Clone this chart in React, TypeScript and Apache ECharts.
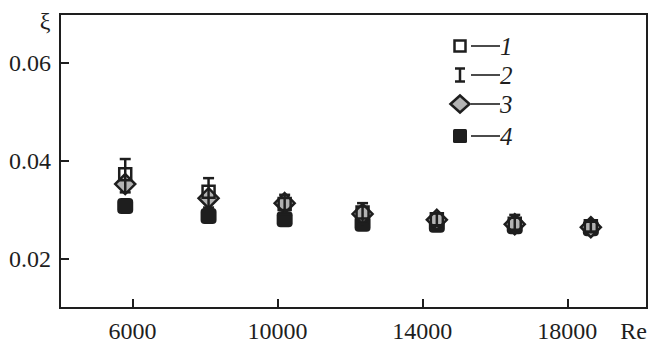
import React, { useEffect, useRef } from "react";
import * as echarts from "echarts";

// Reynolds numbers (x)
const re = [5800, 8100, 10200, 12350, 14400, 16550, 18650];
// Series 1: open squares
const xi1 = [0.0373, 0.0337, 0.0312, 0.0295, 0.0281, 0.0272, 0.0267];
// Series 2: error bars (centre and half-width)
const xi2 = [0.0370, 0.0335, 0.0311, 0.0293, 0.0280, 0.0272, 0.0266];
const err2 = [0.0034, 0.0030, 0.0020, 0.0021, 0.0013, 0.0018, 0.0010];
// Series 3: grey diamonds
const xi3 = [0.0353, 0.0324, 0.0314, 0.0292, 0.0280, 0.0271, 0.0265];
// Series 4: filled squares
const xi4 = [0.0308, 0.0288, 0.0281, 0.0272, 0.0270, 0.0267, 0.0263];

const xTicks = [6000, 10000, 14000, 18000];
const yTicks = [0.02, 0.04, 0.06];
const legendLabels = ["1", "2", "3", "4"];

const FONT = "Liberation Serif";
const INK = "#1e1e1e";

export default function App() {
  const ref = useRef<HTMLDivElement>(null);

  useEffect(() => {
    if (!ref.current) return;
    const chart = echarts.init(ref.current, null, { renderer: "svg" });

    const pair = (ys: number[]) => re.map((x, i) => [x, ys[i]]);
    const errData = re.map((x, i) => [x, xi2[i] - err2[i], xi2[i] + err2[i]]);

    const lx = 460;
    const rows = [46, 75, 104, 136];
    const legend: any[] = [];
    rows.forEach((y, i) => {
      legend.push({
        type: "line",
        shape: { x1: 471, y1: y, x2: 500, y2: y },
        style: { stroke: INK, lineWidth: 1.6 },
      });
      legend.push({
        type: "text",
        x: 500,
        y: y,
        style: {
          text: legendLabels[i],
          fontFamily: FONT,
          fontStyle: "italic",
          fontSize: 25,
          fill: INK,
          verticalAlign: "middle",
        },
      });
    });
    legend.push({
      type: "rect",
      shape: { x: lx - 5.5, y: rows[0] - 5.5, width: 11, height: 11 },
      style: { fill: "#fff", stroke: INK, lineWidth: 2.5 },
    });
    legend.push({
      type: "line",
      shape: { x1: lx - 5, y1: rows[1] - 6.5, x2: lx + 5, y2: rows[1] - 6.5 },
      style: { stroke: INK, lineWidth: 2.5 },
    });
    legend.push({
      type: "line",
      shape: { x1: lx - 5, y1: rows[1] + 6.5, x2: lx + 5, y2: rows[1] + 6.5 },
      style: { stroke: INK, lineWidth: 2.5 },
    });
    legend.push({
      type: "line",
      shape: { x1: lx, y1: rows[1] - 6.5, x2: lx, y2: rows[1] + 6.5 },
      style: { stroke: INK, lineWidth: 2.5 },
    });
    legend.push({
      type: "polygon",
      shape: {
        points: [
          [lx - 9.5, rows[2]],
          [lx, rows[2] - 8.5],
          [lx + 9.5, rows[2]],
          [lx, rows[2] + 8.5],
        ],
      },
      style: { fill: "#b3b3b3", stroke: INK, lineWidth: 2.5 },
    });
    legend.push({
      type: "rect",
      shape: { x: lx - 7, y: rows[3] - 7, width: 14, height: 14, r: 1.5 },
      style: { fill: INK },
    });

    chart.setOption({
      animation: false,
      textStyle: { fontFamily: FONT },
      grid: {
        left: 60,
        right: 1,
        top: 14,
        bottom: 39,
        show: true,
        borderColor: INK,
        borderWidth: 2,
        backgroundColor: "transparent",
      },
      xAxis: {
        type: "value",
        min: 4000,
        max: 20200,
        axisLine: { show: false },
        splitLine: { show: false },
        axisTick: {
          show: true,
          inside: true,
          length: 9,
          customValues: xTicks,
          lineStyle: { color: INK, width: 2 },
        },
        axisLabel: {
          customValues: xTicks,
          margin: 11,
          fontFamily: FONT,
          fontSize: 24,
          color: INK,
          formatter: (v: number) => String(v),
        },
      },
      yAxis: {
        type: "value",
        min: 0.01,
        max: 0.07,
        axisLine: { show: false },
        splitLine: { show: false },
        axisTick: {
          show: true,
          inside: true,
          length: 9,
          customValues: yTicks,
          lineStyle: { color: INK, width: 2 },
        },
        axisLabel: {
          customValues: yTicks,
          margin: 9,
          fontFamily: FONT,
          fontSize: 24,
          color: INK,
          formatter: (v: number) => v.toFixed(2),
        },
      },
      graphic: [
        {
          type: "text",
          x: 45,
          y: 21,
          style: {
            text: "ξ",
            fontFamily: FONT,
            fontSize: 24,
            fill: INK,
            align: "center",
            verticalAlign: "middle",
          },
        },
        {
          type: "text",
          x: 647,
          y: 331,
          style: {
            text: "Re",
            fontFamily: FONT,
            fontSize: 24,
            fill: INK,
            align: "right",
            verticalAlign: "middle",
          },
        },
        ...legend,
      ],
      series: [
        {
          name: "4",
          type: "scatter",
          z: 2,
          symbol: "roundRect",
          symbolSize: 16,
          itemStyle: { color: INK, opacity: 1 },
          data: pair(xi4),
        },
        {
          name: "3",
          type: "scatter",
          z: 3,
          symbol: "diamond",
          symbolSize: [20, 20],
          itemStyle: { color: "#b3b3b3", borderColor: INK, borderWidth: 2.5, opacity: 1 },
          data: pair(xi3),
        },
        {
          name: "1",
          type: "scatter",
          z: 4,
          symbol: "rect",
          symbolSize: 12,
          itemStyle: { color: "rgba(255,255,255,0)", borderColor: INK, borderWidth: 2.5, opacity: 1 },
          data: pair(xi1),
        },
        {
          name: "2",
          type: "custom",
          z: 5,
          encode: { x: 0, y: [1, 2] },
          renderItem: (params: any, api: any) => {
            const x = api.value(0);
            const lo = api.coord([x, api.value(1)]);
            const hi = api.coord([x, api.value(2)]);
            const w = 5.5;
            const st = { stroke: INK, lineWidth: 2.5 };
            return {
              type: "group",
              children: [
                { type: "line", shape: { x1: lo[0], y1: lo[1], x2: hi[0], y2: hi[1] }, style: st },
                { type: "line", shape: { x1: hi[0] - w, y1: hi[1], x2: hi[0] + w, y2: hi[1] }, style: st },
                { type: "line", shape: { x1: lo[0] - w, y1: lo[1], x2: lo[0] + w, y2: lo[1] }, style: st },
              ],
            };
          },
          data: errData,
        },
      ],
    });

    return () => chart.dispose();
  }, []);

  return (
    <div
      ref={ref}
      style={{ position: "fixed", left: 0, top: 0, width: 648, height: 347, background: "#fff" }}
    />
  );
}
